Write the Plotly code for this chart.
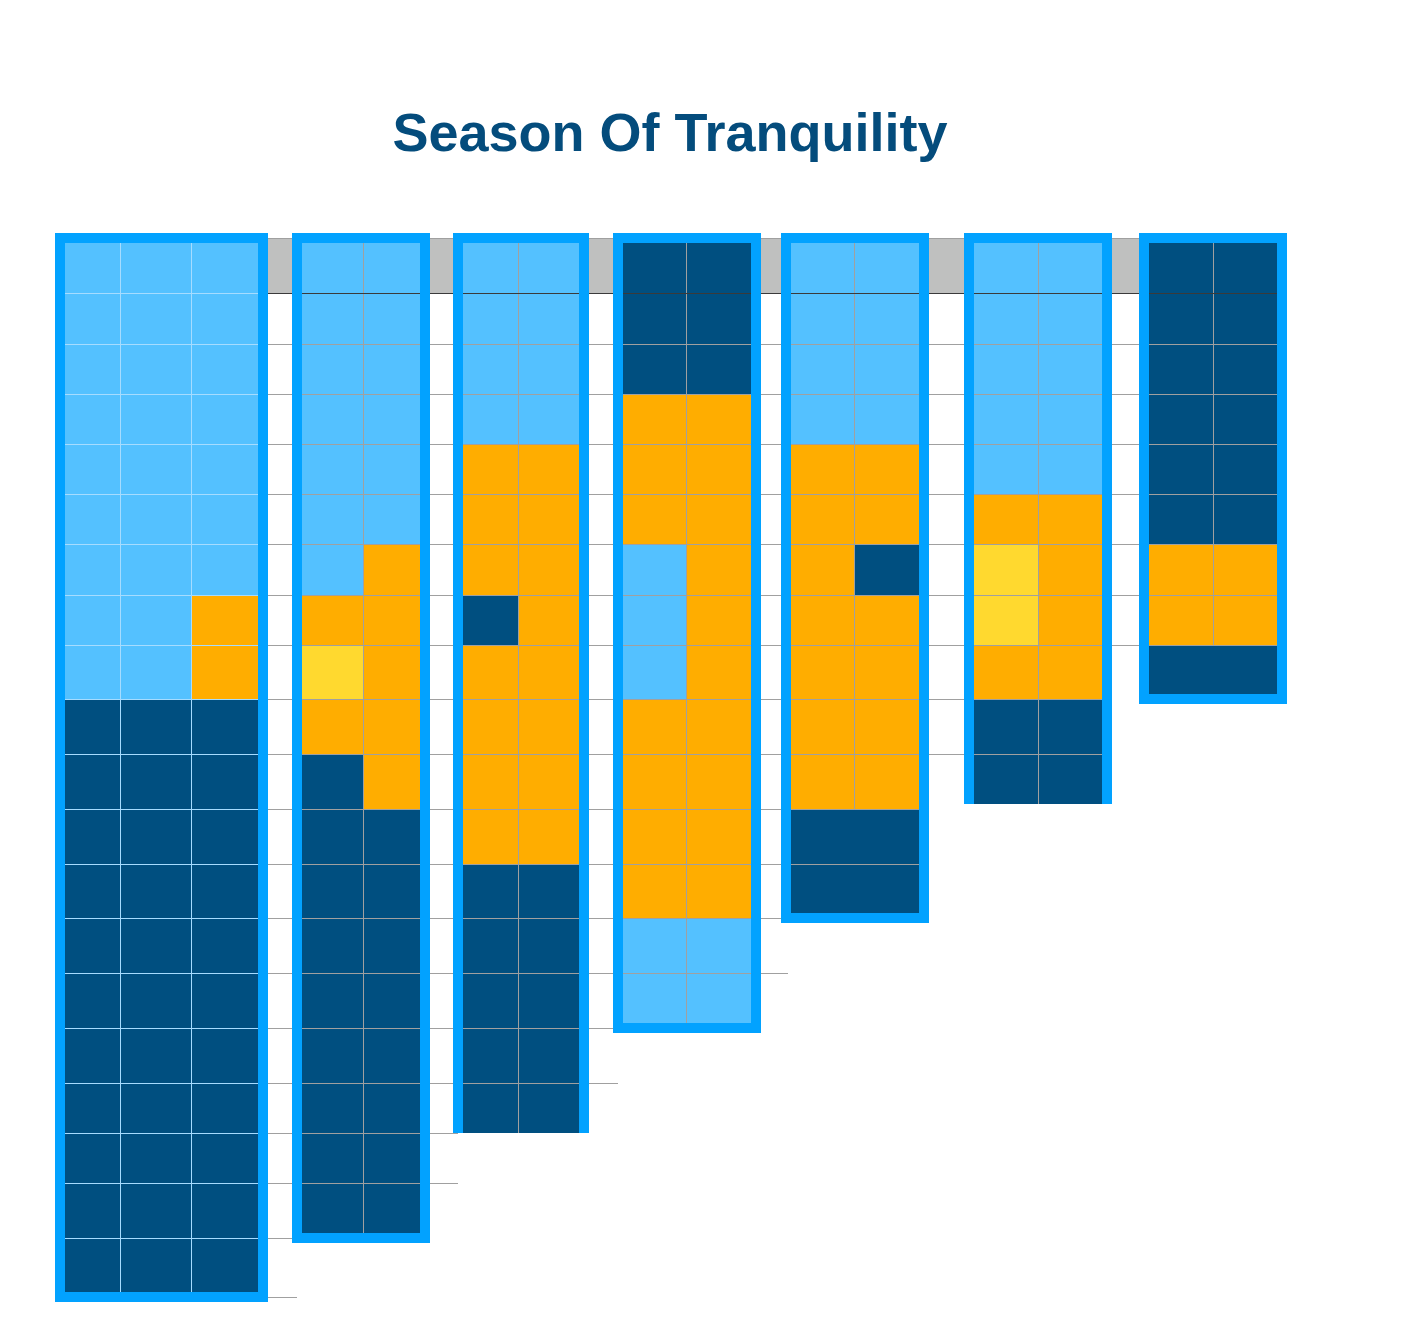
import plotly.graph_objects as go

# ---------------- data (cell colour codes, top row first) ----------------
# L = light blue, O = orange, N = navy, Y = yellow
GROUP_1 = ["LLLLLLLLLNNNNNNNNNNN", "LLLLLLLLLNNNNNNNNNNN", "LLLLLLLOONNNNNNNNNNN"]
GROUP_2 = ["LLLLLLLOYONNNNNNNNN", "LLLLLLOOOOONNNNNNNN"]
GROUP_3 = ["LLLLOOONOOOONNNNN", "LLLLOOOOOOOONNNNN"]
GROUP_4 = ["NNNOOOLLLOOOOLL", "NNNOOOOOOOOOOLL"]
GROUP_5 = ["LLLLOOOOOOONN", "LLLLOONOOOONN"]
GROUP_6 = ["LLLLLOYYONN", "LLLLLOOOONN"]
GROUP_7 = ["NNNNNNOON", "NNNNNNOON"]
GROUPS = [GROUP_1, GROUP_2, GROUP_3, GROUP_4, GROUP_5, GROUP_6, GROUP_7]
MERGED_FROM = [None, None, None, None, 11, None, 8]   # rows where sub-columns merge
OPEN_BOTTOM = [False, False, True, False, False, True, False]
TITLE = "Season Of Tranquility"

# ---------------- layout constants (pixels) ----------------
W, H = 1410, 1338
ROW_EDGES = [243, 293, 344, 394, 444, 494, 544, 595, 645, 699, 754, 809,
             864, 918, 973, 1028, 1083, 1133, 1183, 1238, 1297]
GROUP_X = [[65, 120, 191, 258], [302, 363, 420], [463, 518, 579],
           [623, 686, 751], [791, 854, 919], [974, 1038, 1102], [1149, 1213, 1277]]
GROUP_BOTTOM_ADJ = [0, 0, 0, 0, 0, -5, 0]
STUB = [29, 28, 29, 27, 0, 0, 0]
FRAME_TOP = 238
BORDER = 10
HP = 0.5  # half-pixel offset for crisp 1px lines

C_LB = "#54c1ff"
C_OR = "#ffad00"
C_NV = "#004f80"
C_YE = "#ffd92f"
C_FRAME = "#02a2ff"
C_GRID = "#a0a0a0"
C_GRID_G1 = "#a6dcff"
C_BAND = "#bfc0bf"
C_DARK = "#3a3a3a"
C_TITLE = "#044c7c"

CODE = {"L": 0, "O": 1, "N": 2, "Y": 3}
colorscale = [[0, C_LB], [1/6, C_LB], [1/6, C_OR], [0.5, C_OR],
              [0.5, C_NV], [5/6, C_NV], [5/6, C_YE], [1, C_YE]]

fig = go.Figure()
shapes = []

# grey header band
x_first_right = GROUP_X[0][-1] + BORDER / 2
x_last_right = GROUP_X[-1][-1]
shapes.append(dict(type="rect", xref="x", yref="y", layer="below",
                   x0=x_first_right, x1=x_last_right, y0=FRAME_TOP, y1=ROW_EDGES[1],
                   fillcolor=C_BAND, line=dict(width=0)))

rows = [len(c[0]) for c in GROUPS]


def group_bottom(g):
    return ROW_EDGES[rows[g]] + GROUP_BOTTOM_ADJ[g]


# cells
for g, cols in enumerate(GROUPS):
    ex = GROUP_X[g]
    n = rows[g]
    xe = [ex[0] - BORDER / 2] + ex[1:-1] + [ex[-1] + BORDER / 2]
    ye = ROW_EDGES[:n] + [group_bottom(g)]
    z = [[CODE[c[r]] for c in cols] for r in range(n)]
    fig.add_trace(go.Heatmap(x=xe, y=ye, z=z, zmin=0, zmax=3,
                             colorscale=colorscale, showscale=False,
                             hoverinfo="skip"))

# grid lines
gx, gy = [], []          # grey lines
bx, by = [], []          # light lines inside group 1
gx += [x_first_right - 1, x_last_right, None]
gy += [FRAME_TOP + HP, FRAME_TOP + HP, None]
for k in range(2, len(ROW_EDGES)):
    y = ROW_EDGES[k] + HP
    idx = [i for i in range(len(GROUPS)) if rows[i] > k]
    last = idx[-1] if idx else 0
    if last == len(GROUPS) - 1:
        xend = x_last_right
    else:
        xend = GROUP_X[last][-1] + BORDER + STUB[last]
    gx += [x_first_right - 1, xend, None]
    gy += [y, y, None]
    if k < rows[0]:
        bx += [GROUP_X[0][0], GROUP_X[0][-1], None]
        by += [y, y, None]
# vertical dividers
for g, cols in enumerate(GROUPS):
    bottom = ROW_EDGES[MERGED_FROM[g]] if MERGED_FROM[g] is not None else group_bottom(g)
    for xd in GROUP_X[g][1:-1]:
        if g == 0:
            bx += [xd + HP, xd + HP, None]
            by += [ROW_EDGES[0], bottom, None]
        else:
            gx += [xd + HP, xd + HP, None]
            gy += [ROW_EDGES[0], bottom, None]
bx += [GROUP_X[0][0], GROUP_X[0][-1], None]
by += [ROW_EDGES[1] + HP, ROW_EDGES[1] + HP, None]

fig.add_trace(go.Scatter(x=gx, y=gy, mode="lines", hoverinfo="skip",
                         line=dict(color=C_GRID, width=1), showlegend=False))
fig.add_trace(go.Scatter(x=bx, y=by, mode="lines", hoverinfo="skip",
                         line=dict(color=C_GRID_G1, width=1), showlegend=False))
fig.add_trace(go.Scatter(x=[x_first_right - 1, x_last_right], y=[ROW_EDGES[1] + HP] * 2,
                         mode="lines", hoverinfo="skip",
                         line=dict(color=C_DARK, width=1), showlegend=False))

# frames
for g, cols in enumerate(GROUPS):
    xl = GROUP_X[g][0] - BORDER / 2
    xr = GROUP_X[g][-1] + BORDER / 2
    yb = group_bottom(g)
    if OPEN_BOTTOM[g]:
        path = f"M {xl},{yb} L {xl},{FRAME_TOP} L {xr},{FRAME_TOP} L {xr},{yb}"
    else:
        path = f"M {xl},{yb} L {xl},{FRAME_TOP} L {xr},{FRAME_TOP} L {xr},{yb} Z"
    shapes.append(dict(type="path", xref="x", yref="y", layer="above", path=path,
                       line=dict(color=C_FRAME, width=BORDER)))

fig.update_layout(
    width=W, height=H,
    margin=dict(l=0, r=0, t=0, b=0),
    paper_bgcolor="white", plot_bgcolor="white",
    xaxis=dict(range=[0, W], visible=False, fixedrange=True),
    yaxis=dict(range=[H, 0], visible=False, fixedrange=True),
    shapes=shapes,
    showlegend=False,
    title=dict(text=f"<b>{TITLE}</b>", x=670 / W, xanchor="center",
               y=1 - 132 / H, yanchor="middle",
               font=dict(family="Liberation Sans, Arial, sans-serif", size=54,
                         color=C_TITLE)),
)

fig.write_html("out.html", config={"displayModeBar": False},
               post_script="document.body.style.margin='0';document.body.style.overflow='hidden';")
